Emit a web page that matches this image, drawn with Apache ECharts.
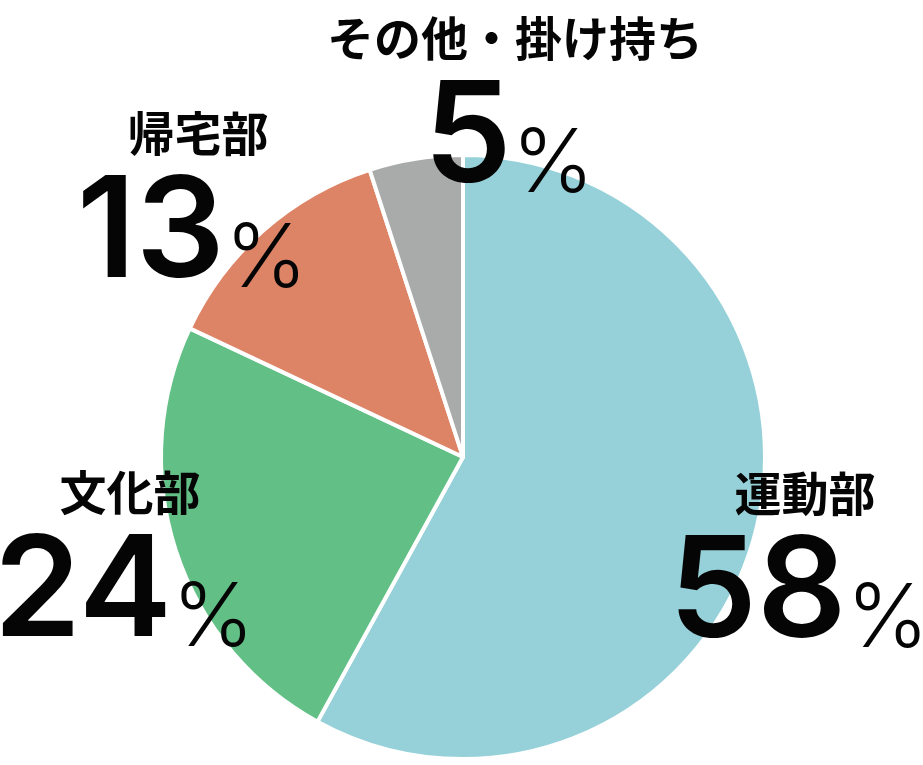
<!DOCTYPE html>
<html><head><meta charset="utf-8">
<script src="https://cdn.jsdelivr.net/npm/echarts@6/dist/echarts.min.js"></script>
<style>html,body{margin:0;padding:0;background:#fff}#c{width:923px;height:765px}</style>
</head><body><div id="c"></div>
<script>
const categories = ['運動部', '文化部', '帰宅部', 'その他・掛け持ち'];
const values = [58, 24, 13, 5];
const colors = ['#96d1d9', '#62c086', '#de8466', '#a9aaaa'];
// label centre positions (layout, not data)
const labelPos = [[799, 553], [124, 552], [192, 193], [509, 98]];

const chart = echarts.init(document.getElementById('c'));
chart.setOption({
  animation: false,
  series: [{
    type: 'pie',
    center: [463, 457],
    radius: [0, 302],
    startAngle: 90,
    clockwise: true,
    silent: true,
    data: categories.map((n, i) => ({ name: n, value: values[i], itemStyle: { color: colors[i] } })),
    itemStyle: { borderColor: '#fff', borderWidth: 4 },
    labelLine: { show: false },
    label: {
      show: true,
      position: 'outside',
      alignTo: 'none',
      overflow: 'none',
      width: 500,
      formatter: p => '{name|' + p.name + '}\n{num|' + p.value + '}{pct|%}',
      align: 'center',
      rich: {
        name: { fontFamily: 'Noto Sans CJK JP', fontWeight: 'bold', fontSize: 47, color: '#050505', lineHeight: 104, align: 'center', padding: [0, 0, 0, 12] },
        num: { fontFamily: 'Inter', fontWeight: 600, fontSize: 140, color: '#050505', lineHeight: 120, verticalAlign: 'bottom' },
        pct: { fontFamily: 'Inter', fontWeight: 300, fontSize: 88, color: '#050505', lineHeight: 120, verticalAlign: 'bottom' }
      }
    },
    labelLayout: p => ({ x: labelPos[p.dataIndex][0], y: labelPos[p.dataIndex][1], align: 'center', verticalAlign: 'middle' })
  }]
});
</script></body></html>
